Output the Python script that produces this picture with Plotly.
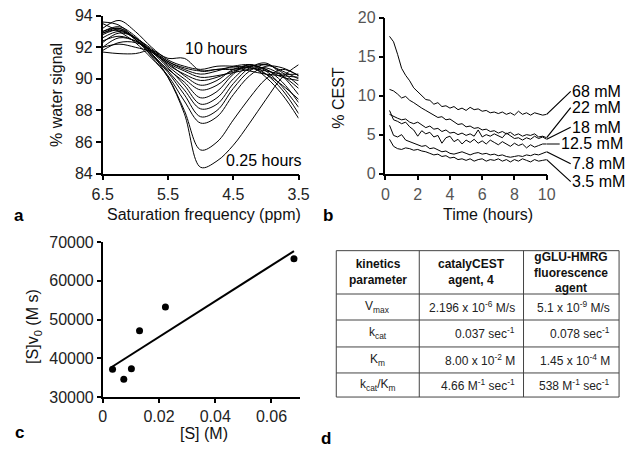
import numpy as np
import plotly.graph_objects as go

W, H = 632, 459
FONT = "Liberation Sans, Arial, sans-serif"

# ---------------- Panel a: z-spectra ----------------
ppm = [6.5, 6.25, 6.0, 5.75, 5.5, 5.25, 5.0, 4.75, 4.5, 4.25, 4.0, 3.75, 3.5]
zspectra = [
    [93.0, 93.3, 92.7, 91.6, 90.1, 87.8, 84.4, 84.8, 85.8, 87.2, 88.7, 90.1, 90.9],
    [92.9, 93.2, 92.6, 91.4, 90.1, 88.0, 85.5, 86.0, 87.4, 88.8, 90.0, 90.6, 90.2],
    [93.5, 93.0, 92.3, 91.3, 90.2, 88.6, 87.2, 87.6, 89.0, 90.2, 90.8, 90.7, 90.2],
    [92.8, 93.1, 92.5, 91.5, 90.4, 89.0, 87.6, 88.0, 89.4, 90.5, 90.9, 90.4, 89.6],
    [92.3, 92.9, 92.6, 91.6, 90.5, 89.3, 88.1, 88.4, 89.7, 90.7, 91.0, 90.2, 89.0],
    [92.0, 92.6, 92.4, 91.7, 90.7, 89.6, 88.4, 88.8, 90.0, 90.8, 90.6, 89.8, 88.5],
    [93.6, 93.4, 92.5, 91.5, 90.6, 89.8, 88.8, 89.2, 90.3, 90.9, 90.5, 89.5, 88.2],
    [91.8, 92.3, 92.3, 91.8, 90.8, 90.0, 89.3, 89.6, 90.4, 90.9, 90.3, 89.3, 87.8],
    [92.0, 92.2, 92.0, 91.7, 91.0, 90.2, 89.6, 89.9, 90.6, 90.8, 90.1, 89.0, 87.5],
    [92.6, 93.0, 92.6, 91.8, 90.9, 90.3, 89.9, 90.1, 90.5, 90.7, 90.3, 89.6, 88.7],
    [93.0, 93.2, 92.5, 91.7, 91.0, 90.5, 90.1, 90.2, 90.4, 90.6, 90.7, 90.2, 89.4],
    [92.4, 92.7, 92.4, 91.8, 91.1, 90.6, 90.3, 90.5, 90.8, 90.9, 90.6, 90.1, 89.9],
    [91.7, 91.6, 91.6, 91.8, 91.3, 91.3, 90.5, 90.6, 90.7, 90.5, 90.3, 90.2, 90.1],
    [92.9, 93.1, 92.6, 91.9, 91.1, 90.7, 90.5, 90.6, 90.6, 90.8, 90.9, 90.5, 90.0],
    [93.2, 93.7, 93.0, 92.0, 91.2, 90.8, 90.6, 90.8, 90.8, 90.7, 90.5, 90.3, 90.3],
]
a_xticks = [6.5, 5.5, 4.5, 3.5]

# ---------------- Panel b: %CEST vs time ----------------
hours = [0.25, 0.5, 0.75, 1.0, 1.25, 1.5, 1.75, 2.0, 2.25, 2.5, 2.75, 3.0, 3.25, 3.5,
         3.75, 4.0, 4.25, 4.5, 4.75, 5.0, 5.25, 5.5, 5.75, 6.0, 6.25, 6.5, 6.75, 7.0,
         7.25, 7.5, 7.75, 8.0, 8.25, 8.5, 8.75, 9.0, 9.25, 9.5, 9.75, 10.0]
conc_labels = ["68 mM", "22 mM", "18 mM", "12.5 mM", "7.8 mM", "3.5 mM"]
cest_68 = [17.6, 16.9, 15.3, 13.5, 12.6, 11.9, 11.0, 10.5, 10.1, 9.5, 9.4, 8.9, 9.1, 8.6,
           8.7, 8.4, 8.6, 8.2, 8.4, 8.1, 8.5, 8.2, 8.3, 8.0, 8.1, 7.8, 7.9, 7.7,
           7.9, 7.6, 7.8, 7.5, 8.0, 7.6, 7.8, 7.5, 7.8, 7.6, 7.5, 7.6]
cest_22 = [10.8, 10.6, 10.2, 9.7, 9.9, 9.4, 9.1, 8.7, 8.4, 8.1, 7.8, 7.6, 7.2, 7.3,
           6.9, 7.0, 6.6, 6.3, 6.4, 6.0, 6.1, 5.8, 5.9, 5.6, 5.7, 5.4, 5.5, 5.2,
           5.4, 5.1, 5.3, 4.9, 5.1, 4.8, 5.0, 4.9, 5.1, 4.7, 4.8, 4.6]
cest_18 = [7.6, 7.3, 7.1, 6.9, 7.0, 6.6, 6.4, 6.6, 6.2, 5.9, 6.1, 5.7, 5.8, 5.4,
           5.6, 5.2, 5.3, 5.0, 5.2, 4.9, 5.1, 4.8, 5.6, 4.7, 5.0, 4.8, 5.1, 4.9,
           4.6, 5.2, 4.8, 4.5, 4.6, 4.3, 4.6, 4.4, 4.8, 4.5, 4.7, 4.4]
cest_12_5 = [8.1, 6.9, 6.7, 6.4, 6.6, 6.0, 5.6, 4.8, 5.5, 5.1, 5.3, 4.7, 4.9, 3.9,
             4.6, 4.8, 4.1, 4.4, 3.8, 4.3, 4.0, 4.4, 3.9, 4.2, 3.8, 4.3, 4.0, 3.7,
             4.1, 3.8, 3.5, 3.9, 3.6, 3.8, 3.3, 3.7, 3.4, 3.6, 3.8, 3.8]
cest_7_8 = [6.2, 4.9, 4.7, 5.0, 4.3, 4.1, 3.9, 3.8, 3.5, 3.6, 3.2, 3.3, 3.0, 2.8,
            2.9, 2.6, 2.5, 2.7, 2.8, 2.6, 2.4, 2.6, 2.7, 2.5, 2.6, 2.4, 2.5, 2.3,
            2.4, 2.2, 2.1, 2.2, 2.3, 2.2, 2.4, 2.3, 2.5, 2.4, 2.6, 2.8]
cest_3_5 = [4.4, 3.5, 3.2, 3.1, 3.3, 3.2, 3.0, 3.1, 2.9, 2.8, 2.6, 2.4, 2.5, 2.2,
            2.3, 2.0, 2.1, 1.8, 1.9, 1.7, 1.9, 1.6, 1.8, 1.9, 1.6, 1.8, 1.7, 1.9,
            1.6, 1.8, 1.5, 1.8, 1.6, 1.9, 1.7, 1.5, 1.8, 1.6, 1.7, 1.8]
cest_series = [cest_68, cest_22, cest_18, cest_12_5, cest_7_8, cest_3_5]
# label offsets (pixels) from each curve's final point
label_ax = [24, 24, 24, 13, 24, 24]
label_ay = [-23, -30, -12, 0, 12, 22]

# ---------------- Panel c ----------------
S_M = [0.0035, 0.0075, 0.0102, 0.0131, 0.0223, 0.068]
Sv0 = [37200, 34600, 37300, 47100, 53200, 65700]
c_xticks = [0, 0.02, 0.04, 0.06]
c_xticktext = ["0", "0.02", "0.04", "0.06"]

# ---------------- Panel d: table ----------------
tbl_header = ["kinetics<br>parameter", "catalyCEST<br>agent, 4",
              "gGLU-HMRG<br>fluorescence<br>agent"]
tbl_param = ["V<sub>max</sub>", "k<sub>cat</sub>", "K<sub>m</sub>",
             "k<sub>cat</sub>/K<sub>m</sub>"]
tbl_catacest = ["2.196 x 10<sup>-6</sup> M/s", "0.037 sec<sup>-1</sup>",
                "8.00 x 10<sup>-2</sup> M", "4.66 M<sup>-1</sup> sec<sup>-1</sup>"]
tbl_gglu = ["5.1 x 10<sup>-9</sup> M/s", "0.078 sec<sup>-1</sup>",
            "1.45 x 10<sup>-4</sup> M", "538 M<sup>-1</sup> sec<sup>-1</sup>"]
# table grid (pixels)
tbl_cols_px = [337, 423, 531, 630]
tbl_rows_px = [252, 297, 324, 352, 379, 404]


def px_x(p):
    return p / W


def px_y(p):
    return 1 - p / H


fig = go.Figure()

for ys in zspectra:
    fig.add_trace(go.Scatter(x=ppm, y=ys, mode="lines", xaxis="x", yaxis="y",
                             line=dict(color="black", width=1, shape="spline", smoothing=1.0),
                             showlegend=False, hoverinfo="skip"))

for ys in cest_series:
    fig.add_trace(go.Scatter(x=hours, y=ys, mode="lines", xaxis="x2", yaxis="y2",
                             line=dict(color="black", width=1),
                             showlegend=False, hoverinfo="skip"))

fig.add_trace(go.Scatter(x=S_M, y=Sv0, mode="markers", xaxis="x3", yaxis="y3",
                         marker=dict(color="black", size=7), showlegend=False))
slope, icpt = np.polyfit(S_M, Sv0, 1)
fx = [min(S_M), max(S_M)]
fig.add_trace(go.Scatter(x=fx, y=[slope * v + icpt for v in fx], mode="lines",
                         xaxis="x3", yaxis="y3", line=dict(color="black", width=2),
                         showlegend=False))

axis_common = dict(showline=True, linecolor="black", linewidth=1.5, ticks="outside",
                   tickwidth=1.5, tickcolor="black", showgrid=False,
                   zeroline=False, mirror=False)

fig.update_layout(
    width=W, height=H, margin=dict(l=0, r=0, t=0, b=0),
    paper_bgcolor="white", plot_bgcolor="white",
    font=dict(family=FONT, size=16, color="black"),
    xaxis=dict(domain=[px_x(95), px_x(298)], range=[6.5, 3.5], tickvals=a_xticks,
               ticktext=[str(v) for v in a_xticks], anchor="y", ticklen=5,
               tickfont=dict(size=16, color="#222"), **axis_common),
    yaxis=dict(domain=[px_y(172), px_y(8)], range=[84, 94], dtick=2, anchor="x",
               ticklen=5, tickfont=dict(size=16, color="#222"), **axis_common),
    xaxis2=dict(domain=[px_x(388), px_x(555)], range=[0, 10], dtick=2, anchor="y2",
                ticklen=5, tickfont=dict(size=16, color="#555"), **axis_common),
    yaxis2=dict(domain=[px_y(172), px_y(10)], range=[0, 20], dtick=5, anchor="x2",
                ticklen=5, tickfont=dict(size=16, color="#555"), **axis_common),
    xaxis3=dict(domain=[px_x(95), px_x(299)], range=[0, 0.07], tickvals=c_xticks,
                ticktext=c_xticktext, anchor="y3", ticklen=4,
                tickfont=dict(size=16, color="#222"), **axis_common),
    yaxis3=dict(domain=[px_y(404), px_y(243)], range=[30000, 70000], dtick=10000,
                anchor="x3", tickformat="d", ticklen=4,
                tickfont=dict(size=16, color="#222"), **axis_common),
)

ann = []
for txt, x, y in [("a", 8, 215), ("b", 328, 215), ("c", 9, 441), ("d", 326, 447)]:
    ann.append(dict(text=f"<b>{txt}</b>", x=px_x(x), y=px_y(y), xref="paper", yref="paper",
                    showarrow=False, xanchor="center", yanchor="middle",
                    font=dict(size=17, color="black")))
for txt, x, y, ang in [("Saturation frequency (ppm)", 200, 214, 0),
                       ("Time (hours)", 494, 214, 0),
                       ("[S] (M)", 200, 442, 0),
                       ("% water signal", 47, 90, -90),
                       ("% CEST", 339, 93, -90),
                       ("[S]v<sub>0</sub> (M s)", 24, 331, -90)]:
    ann.append(dict(text=txt, x=px_x(x), y=px_y(y), xref="paper", yref="paper",
                    showarrow=False, xanchor="center", yanchor="middle", textangle=ang,
                    font=dict(size=16, color="#111")))
ann.append(dict(text="10 hours", x=4.76, y=91.95, xref="x", yref="y", showarrow=False,
                font=dict(size=16, color="black")))
ann.append(dict(text="0.25 hours", x=4.03, y=84.8, xref="x", yref="y", showarrow=False,
                font=dict(size=16, color="black")))
for lab, ys, dx, dy in zip(conc_labels, cest_series, label_ax, label_ay):
    ann.append(dict(text=lab, x=hours[-1], y=ys[-1], xref="x2", yref="y2",
                    showarrow=True, arrowhead=0, arrowwidth=1.2, arrowcolor="black",
                    ax=dx, ay=dy, xanchor="left", yanchor="middle", standoff=0,
                    borderpad=0, font=dict(size=16, color="black")))

# table text
hy = (tbl_rows_px[0] + tbl_rows_px[1]) / 2
for j, txt in enumerate(tbl_header):
    cx = (tbl_cols_px[j] + tbl_cols_px[j + 1]) / 2
    ann.append(dict(text=f"<b>{txt}</b>", x=px_x(cx), y=px_y(hy), xref="paper",
                    yref="paper", showarrow=False, xanchor="center", yanchor="middle",
                    align="center", font=dict(size=12, color="#111")))
for i in range(len(tbl_param)):
    cy = (tbl_rows_px[i + 1] + tbl_rows_px[i + 2]) / 2
    ann.append(dict(text=tbl_param[i], x=px_x((tbl_cols_px[0] + tbl_cols_px[1]) / 2),
                    y=px_y(cy), xref="paper", yref="paper", showarrow=False,
                    xanchor="center", yanchor="middle", font=dict(size=12, color="#222")))
    for j, col in ((1, tbl_catacest), (2, tbl_gglu)):
        ann.append(dict(text=col[i], x=px_x(tbl_cols_px[j + 1] - 7), y=px_y(cy),
                        xref="paper", yref="paper", showarrow=False, xanchor="right",
                        yanchor="middle", font=dict(size=12, color="#222")))

shapes = []
for xp in tbl_cols_px:
    shapes.append(dict(type="line", xref="paper", yref="paper", x0=px_x(xp), x1=px_x(xp),
                       y0=px_y(tbl_rows_px[0]), y1=px_y(tbl_rows_px[-1]),
                       line=dict(color="#444", width=1)))
for yp in tbl_rows_px:
    shapes.append(dict(type="line", xref="paper", yref="paper", x0=px_x(tbl_cols_px[0]),
                       x1=px_x(tbl_cols_px[-1]), y0=px_y(yp), y1=px_y(yp),
                       line=dict(color="#444", width=1)))

fig.update_layout(annotations=ann, shapes=shapes)

fig.write_html("out.html", config={"displayModeBar": False},
               post_script="document.body.style.margin='0px';")
